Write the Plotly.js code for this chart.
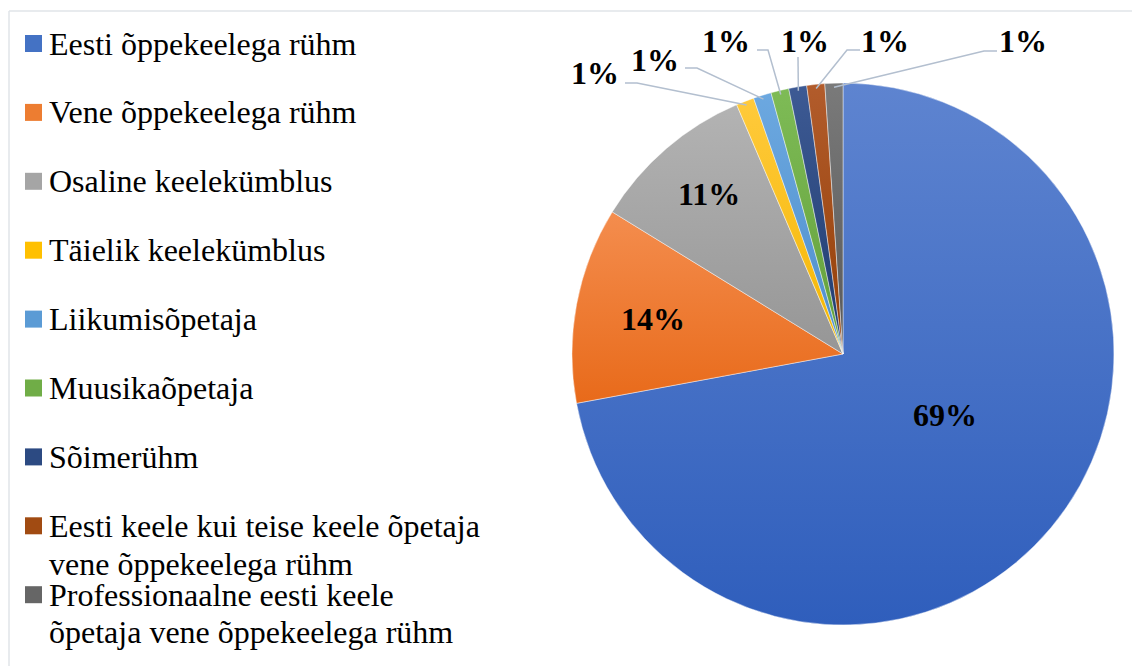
<!DOCTYPE html>
<html><head><meta charset="utf-8">
<script src="https://cdn.plot.ly/plotly-3.0.1.min.js"></script>
<style>
html,body{margin:0;padding:0;background:#fff;overflow:hidden}
#chart{width:1132px;height:666px}
</style>
</head><body>
<svg width="0" height="0" style="position:absolute"><defs id="gradDefs"></defs></svg>
<div id="chart"></div>
<script>
// ---- data ----
const categories = [
  'Eesti õppekeelega rühm',
  'Vene õppekeelega rühm',
  'Osaline keelekümblus',
  'Täielik keelekümblus',
  'Liikumisõpetaja',
  'Muusikaõpetaja',
  'Sõimerühm',
  'Eesti keele kui teise keele õpetaja|vene õppekeelega rühm',
  'Professionaalne eesti keele|õpetaja vene õppekeelega rühm'
];
// slice sizes as drawn in the picture (share of the full circle, %)
const shares = [72.1, 11.7, 9.8, 1.07, 1.07, 1.07, 1.07, 1.07, 1.07];
// percentage labels printed on the chart
const shownPct = ['69%', '14%', '11%', '1%', '1%', '1%', '1%', '1%', '1%'];

// ---- styles ----
const colTop = ['#5e84d0', '#f48d4e', '#b3b3b3', '#ffca3c', '#6ca8e0', '#7ebb56', '#3d5a94', '#b25c2c', '#7a7a7a'];
const colBot = ['#2f5ebc', '#e86a1a', '#969696', '#f4b600', '#4e8ecb', '#629f3a', '#1f3b6e', '#933e06', '#585858'];
const colMid = ['#4472c4', '#ed7d31', '#a5a5a5', '#ffc000', '#5b9bd5', '#70ad47', '#2c4a82', '#a14b12', '#666666'];

const W = 1132, H = 666;
const CX = 843, CY = 354, R = 271;
const px = x => x / W, py = y => 1 - y / H;
const FONT = 'Liberation Serif';
const PCT_FS = 32;

// mid-angles (clockwise from 12 o'clock), from the data
const total = shares.reduce((a, b) => a + b, 0);
const mids = []; let acc = 0;
shares.forEach(v => { mids.push((acc + v / 2) / total * 360); acc += v; });
const polar = (ang, r) => [CX + r * Math.sin(ang * Math.PI / 180), CY - r * Math.cos(ang * Math.PI / 180)];

// label placement config (Excel best-fit layout)
const bigLab = [{rf: 0.438, da: -8.9}, {rf: 0.711, da: -0.2}, {rf: 0.77, da: 0.75}];
const smallLab = [
  {x: 594.5, y: 73.5, pts: [[637, 83], [625, 83]]},
  {x: 654.5, y: 60, pts: [[697, 68], [685, 68]]},
  {x: 726, y: 41, pts: [[768, 50], [757, 50]]},
  {x: 805, y: 41, pts: [[798, 57]]},
  {x: 884.5, y: 41, pts: [[847, 50], [860, 50]]},
  {x: 1023, y: 41, pts: [[984, 51], [997, 51]]}
];

const annotations = [], shapes = [];
// frame
shapes.push({type: 'line', xref: 'paper', yref: 'paper', x0: px(9), x1: px(9), y0: py(11), y1: py(H + 5), line: {color: '#e0e4e9', width: 1.5}});
shapes.push({type: 'line', xref: 'paper', yref: 'paper', x0: px(9), x1: px(W + 5), y0: py(11), y1: py(11), line: {color: '#e0e4e9', width: 1.5}});

// big labels
for (let i = 0; i < 3; i++) {
  const [x, y] = polar(mids[i] + bigLab[i].da, R * bigLab[i].rf);
  annotations.push({xref: 'paper', yref: 'paper', x: px(x), y: py(y), xanchor: 'center', yanchor: 'middle',
    text: '<b>' + shownPct[i] + '</b>', showarrow: false, font: {family: FONT, size: PCT_FS, color: '#000'}});
}
// small labels with leader lines
for (let i = 3; i < shares.length; i++) {
  const L = smallLab[i - 3];
  const [ax, ay] = polar(mids[i], R * 0.985);
  let d = 'M' + px(ax) + ',' + py(ay);
  L.pts.forEach(p => { d += ' L' + px(p[0]) + ',' + py(p[1]); });
  shapes.push({type: 'path', xref: 'paper', yref: 'paper', path: d, line: {color: '#b3bfcf', width: 1.5}});
  annotations.push({xref: 'paper', yref: 'paper', x: px(L.x), y: py(L.y), xanchor: 'center', yanchor: 'middle',
    text: '<b>' + shownPct[i] + '</b>', showarrow: false, font: {family: FONT, size: PCT_FS, color: '#000'}});
}

// legend (built from categories & colours)
const LEG_Y0 = 43.5, LEG_DY = 68.9, LEG_FS = 32, LEG_LH = 37.7;
categories.forEach((c, i) => {
  const yc = LEG_Y0 + LEG_DY * i;
  shapes.push({type: 'rect', xref: 'paper', yref: 'paper', x0: px(25), x1: px(42), y0: py(yc - 8.5), y1: py(yc + 8.5),
    fillcolor: colMid[i], line: {width: 0}});
  c.split('|').forEach((line, k) => {
    annotations.push({xref: 'paper', yref: 'paper', x: px(47), y: py(yc + k * LEG_LH), xanchor: 'left', yanchor: 'middle', align: 'left',
      text: line, showarrow: false, font: {family: FONT, size: LEG_FS, color: '#000'}});
  });
});

const trace = {
  type: 'pie', labels: categories.map(c => c.replace('|', ' ')), values: shares,
  sort: false, direction: 'clockwise', rotation: 0,
  marker: {colors: colMid, line: {color: 'rgba(255,255,255,0.55)', width: 0.8}},
  textinfo: 'none', hoverinfo: 'skip',
  domain: {x: [px(CX - R), px(CX + R)], y: [py(CY + R), py(CY - R)]}
};

const layout = {
  width: W, height: H, margin: {l: 0, r: 0, t: 0, b: 0},
  paper_bgcolor: '#fff', plot_bgcolor: '#fff', showlegend: false,
  font: {family: FONT},
  annotations, shapes
};

// gradients
const defs = document.getElementById('gradDefs');
const NS = 'http://www.w3.org/2000/svg';
colTop.forEach((t, i) => {
  const g = document.createElementNS(NS, 'linearGradient');
  g.setAttribute('id', 'sg' + i);
  g.setAttribute('x1', '0'); g.setAttribute('y1', '0'); g.setAttribute('x2', '0'); g.setAttribute('y2', '1');
  const s1 = document.createElementNS(NS, 'stop'); s1.setAttribute('offset', '0'); s1.setAttribute('stop-color', t);
  const s2 = document.createElementNS(NS, 'stop'); s2.setAttribute('offset', '1'); s2.setAttribute('stop-color', colBot[i]);
  g.appendChild(s1); g.appendChild(s2); defs.appendChild(g);
});

Plotly.newPlot('chart', [trace], layout, {staticPlot: true, displayModeBar: false}).then(() => {
  document.querySelectorAll('#chart g.slice path.surface').forEach((p, i) => {
    p.style.fill = 'url(#sg' + i + ')';
  });
});
</script>
</body></html>
